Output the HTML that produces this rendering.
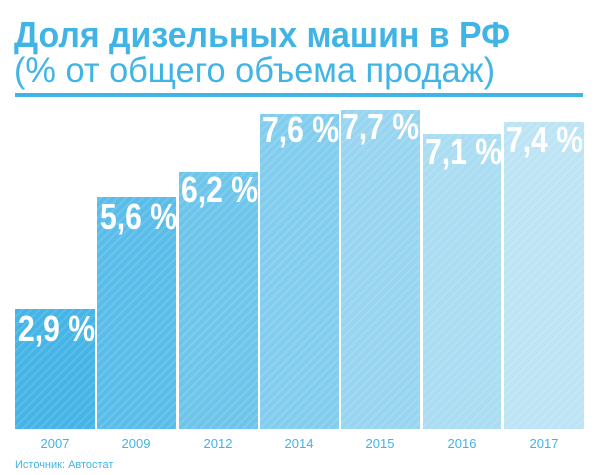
<!DOCTYPE html>
<html><head><meta charset="utf-8"><style>
html,body{margin:0;padding:0;background:#fff;}
svg{display:block;}
</style></head><body>
<svg width="600" height="475" xmlns="http://www.w3.org/2000/svg" font-family="'Liberation Sans', sans-serif">
<defs>
<pattern id="st" width="6" height="6" patternUnits="userSpaceOnUse" patternTransform="rotate(45)">
<rect width="6" height="6" fill="none"/>
<rect width="2" height="6" fill="#ffffff" opacity="0.12"/>
</pattern>
</defs>
<text x="14" y="47" font-size="36" font-weight="bold" fill="#41b4e6" textLength="496" lengthAdjust="spacingAndGlyphs">Доля дизельных машин в РФ</text>
<text x="14" y="82" font-size="35" fill="#41b4e6" textLength="481" lengthAdjust="spacingAndGlyphs">(% от общего объема продаж)</text>
<rect x="15" y="93" width="568" height="4" fill="#41b4e6"/>
<g>
<rect x="15" y="309" width="80" height="120" fill="#45b4e6"/>
<rect x="97" y="197" width="79" height="232" fill="#5abde9"/>
<rect x="179" y="172" width="79" height="257" fill="#6ec5eb"/>
<rect x="260" y="114" width="79" height="315" fill="#82cdee"/>
<rect x="341" y="110" width="79" height="319" fill="#98d5f0"/>
<rect x="423" y="134" width="78" height="295" fill="#aadcf2"/>
<rect x="504" y="122" width="80" height="307" fill="#bde4f5"/>
<rect x="15" y="110" width="569" height="319" fill="url(#st)"/>
<rect x="95" y="110" width="2" height="319" fill="#fff"/>
<rect x="176" y="110" width="3" height="319" fill="#fff"/>
<rect x="258" y="110" width="2" height="319" fill="#fff"/>
<rect x="339" y="110" width="2" height="319" fill="#fff"/>
<rect x="420" y="110" width="3" height="319" fill="#fff"/>
<rect x="501" y="110" width="3" height="319" fill="#fff"/>
</g>
<g font-size="36" font-weight="bold" fill="#fff">
<text x="18" y="341" textLength="77" lengthAdjust="spacingAndGlyphs">2,9 %</text>
<text x="100" y="229" textLength="77" lengthAdjust="spacingAndGlyphs">5,6 %</text>
<text x="181" y="202" textLength="77" lengthAdjust="spacingAndGlyphs">6,2 %</text>
<text x="262" y="142" textLength="77" lengthAdjust="spacingAndGlyphs">7,6 %</text>
<text x="342" y="139" textLength="77" lengthAdjust="spacingAndGlyphs">7,7 %</text>
<text x="425" y="164" textLength="77" lengthAdjust="spacingAndGlyphs">7,1 %</text>
<text x="506" y="152" textLength="77" lengthAdjust="spacingAndGlyphs">7,4 %</text>
</g>
<g font-size="13" fill="#41b4e6" text-anchor="middle">
<text x="55" y="448">2007</text>
<text x="136" y="448">2009</text>
<text x="218" y="448">2012</text>
<text x="299" y="448">2014</text>
<text x="380" y="448">2015</text>
<text x="462" y="448">2016</text>
<text x="544" y="448">2017</text>
</g>
<text x="15" y="468" font-size="11" fill="#41b4e6">Источник: Автостат</text>
</svg>
</body></html>
